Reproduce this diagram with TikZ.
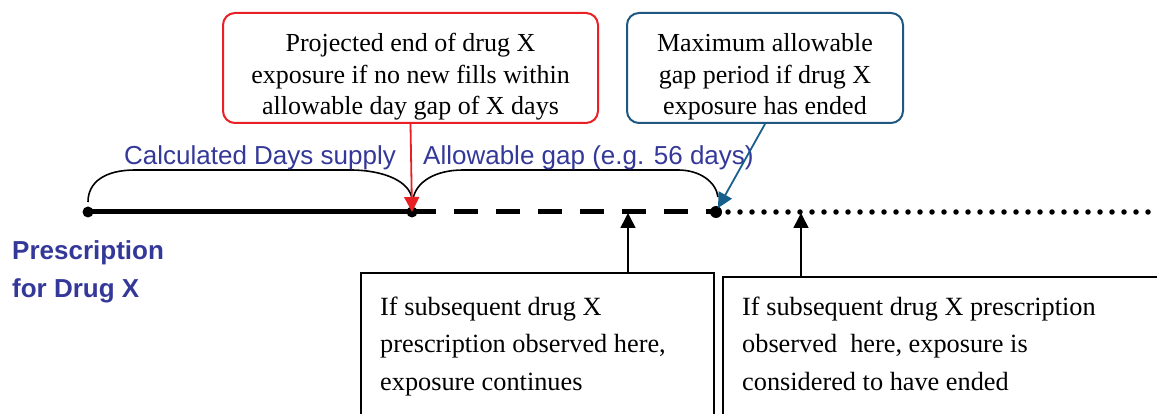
\documentclass[tikz,border=0pt]{standalone}
\usepackage{fontspec}
\setmainfont{Liberation Serif}
\setsansfont{Liberation Sans}
\usetikzlibrary{arrows.meta}
\definecolor{lblue}{RGB}{52,56,152}
\definecolor{bred}{RGB}{232,32,36}
\definecolor{bteal}{RGB}{30,88,128}
\definecolor{ateal}{RGB}{24,96,140}
\tikzset{
  callframe/.style={draw, line width=2, rounded corners=12, minimum height=110, inner sep=0},
  calltext/.style={align=center, inner sep=0, font=\fontsize{26}{31.5}\selectfont},
  obsbox/.style={draw, line width=2, inner sep=0, anchor=north west},
  obstext/.style={anchor=base west, align=left, inner sep=0,
    font=\fontsize{26.3}{37.5}\selectfont},
  sublabel/.style={text=lblue, font=\sffamily\fontsize{26}{31}\selectfont, inner sep=0},
  tip/.style={-{Triangle[length=15,width=15]}},
  bracket/.style={line width=1.6},
}
\begin{document}
\begin{tikzpicture}[x=1pt,y=-1pt]
\useasboundingbox (0,0) rectangle (1157,414);
\clip (0,0) rectangle (1157,414);

% timeline coordinates
\coordinate (s) at (88,212);
\coordinate (e1) at (412,212);
\coordinate (e2) at (716,212);
\coordinate (fin) at (1165,212);

% timeline
\draw[line width=5] (s) -- (e1);
\draw[line width=5, dash pattern=on 24 off 18] (e1) -- (e2);
\draw[line width=5.5, line cap=round, dash pattern=on 0 off 12] (e2) -- (fin);
\fill (s) circle (5.5);
\fill (e1) circle (5.5);
\fill (e2) circle (6);

% brackets
\coordinate (b1l) at (88,202);
\coordinate (b1r) at (412,199);
\coordinate (b2l) at (413,199);
\coordinate (b2r) at (718,197);
\draw[bracket] (b1l) .. controls (88,182) and (105,170) .. (135,170) -- (350,170)
  .. controls (385,170) and (410,182) .. (b1r);
\draw[bracket] (b2l) .. controls (416,182) and (435,170) .. (463,170) -- (678,170)
  .. controls (700,170) and (716,182) .. (b2r);

% labels
\node[sublabel, anchor=base] (lab1) at (260,165) {Calculated Days supply};
\node[sublabel, anchor=base west] (lab2) at (423,165) {Allowable gap (e.g. 56 days)};
\node[text=lblue, font=\sffamily\bfseries\fontsize{26}{38.5}\selectfont, align=left,
  anchor=base west, inner sep=0] (rx) at (12,298) {Prescription\\for Drug X};

% callouts
\node[callframe, draw=bred, minimum width=375] (projbox) at (410.5,68) {};
\node[calltext] (proj) at (410.5,77)
  {Projected end of drug X\\exposure if no new fills within\\allowable day gap of X days};
\node[callframe, draw=bteal, minimum width=276] (maxbox) at (765,68) {};
\node[calltext] (maxg) at (765,77)
  {Maximum allowable\\gap period if drug X\\exposure has ended};

\draw[bred, line width=1.8, tip] (projbox.south) -- (e1);
\draw[ateal, line width=1.8, tip] (maxbox.south) -- (718,208);

% observation boxes
\node[obsbox, minimum width=353, minimum height=200] (ob1) at (360,272) {};
\node[obsbox, minimum width=500, minimum height=200] (ob2) at (722,276) {};
\node[obstext] (ot1) at (380,390)
  {If subsequent drug X\\prescription observed here,\\exposure continues};
\node[obstext] (ot2) at (742,390)
  {If subsequent drug X prescription\\observed\ \ here, exposure is\\considered to have ended};

\coordinate (a1) at (628,213);
\coordinate (a2) at (801,213);
\draw[line width=1.6, tip] (ob1.north west -| a1) -- (a1);
\draw[line width=1.6, tip] (ob2.north west -| a2) -- (a2);
\end{tikzpicture}
\end{document}
